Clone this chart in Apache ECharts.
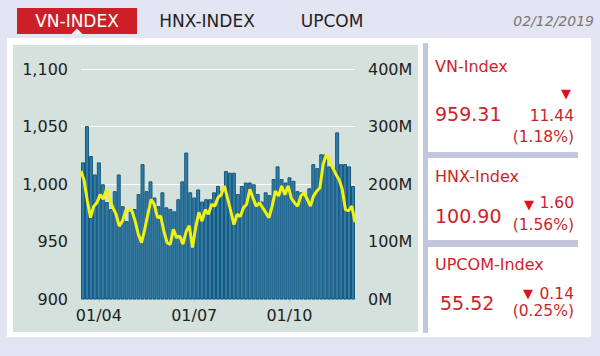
<!DOCTYPE html>
<html><head><meta charset="utf-8">
<script src="https://cdn.jsdelivr.net/npm/echarts/dist/echarts.min.js"></script>
<style>html,body{margin:0;padding:0;background:#e4e5f2;}#c{width:600px;height:356px;}</style>
</head><body><div id="c"></div>
<script>
// ---- data ----
const tabs = ['VN-INDEX', 'HNX-INDEX', 'UPCOM'];
const dateText = '02/12/2019';
const xTickLabels = ['01/04', '01/07', '01/10'];
const xTickIndex = [4, 28, 52];
// trading volume (millions of shares)
const volume = [238,301,249,217,238,200,169,157,188,217,162,136,153,157,183,235,188,205,177,162,186,160,157,
  153,174,205,255,186,177,191,170,174,174,186,197,188,223,220,220,183,197,203,203,200,
  183,170,186,181,
  209,231,209,203,212,206,188,186,181,193,235,228,252,252,231,228,290,235,235,231,197];
// VN-Index close
const vnIndex = [1011.6,1003,985.5,971,981,984,991,987,995.7,987,979.7,974,963.7,968,976.8,978,976.8,968,956.5,949.3,960.9,974,987,982.6,971,972.5,959.4,949.3,947.8,960.9,953.7,
  955,948,959,964,945,962.6,975.6,968,978,974,982.6,981,988.4,991,998.5,988,976.8,965,974,972,979.7,982.6,995.7,988,981,984,979.7,975.4,971,981,994,989.8,998.5,991,998.5,988,984,981,989.8,992.8,987,981,990,994,997,1017.4,1026,1020,1014.5,1008.7,1004,995.7,978,977,981,967];
const panelNames = ['VN-Index', 'HNX-Index', 'UPCOM-Index'];
const panelValues = ['959.31', '100.90', '55.52'];
const panelChanges = ['11.44', '1.60', '0.14'];
const panelPcts = ['(1.18%)', '(1.56%)', '(0.25%)'];

// ---- styling / layout ----
const FF = '"DejaVu Sans", Verdana, sans-serif';
const RED = '#cc1f2b';
function txt(x, y, text, size, fill, align, extra) {
  return Object.assign({
    type: 'text', x: x, y: y, z: 10,
    style: { text: text, fill: fill, font: size + 'px ' + FF,
      align: align, verticalAlign: 'middle', textAlign: align, textVerticalAlign: 'middle' }
  }, extra || {});
}
function rect(x, y, w, h, fill) {
  return { type: 'rect', z: -10, shape: { x: x, y: y, width: w, height: h }, style: { fill: fill } };
}
const graphics = [
  rect(7, 38, 584, 299, '#ffffff'),
  rect(13, 45, 405, 287, '#d5e1dd'),
  rect(423, 43, 5, 290, '#c3c6dc'),
  rect(423, 152, 155, 6, '#c3c6dc'),
  rect(423, 240, 155, 7, '#c3c6dc'),
  rect(17, 8, 120, 26, '#cd1f27'),
  { type: 'polygon', z: -9, shape: { points: [[71, 34.5], [77, 28.5], [83, 34.5]] }, style: { fill: '#eeeef7' } },
  txt(77, 21, tabs[0], 17, '#ffffff', 'center'),
  txt(207, 21, tabs[1], 17, '#222222', 'center'),
  txt(332, 21, tabs[2], 17, '#222222', 'center'),
  txt(594, 21, dateText, 14, '#777777', 'right', {}),
];
graphics[graphics.length - 1].style.font = 'italic 14px ' + FF;
const panelY = [
  { name: 66, tri: [566, 93], chg: 116, val: 114, pct: 137, valX: 435 },
  { name: 176, tri: [529, 204], chg: 203, val: 216, pct: 225, valX: 435 },
  { name: 264, tri: [528, 293], chg: 294, val: 303, pct: 311, valX: 440 }
];
panelY.forEach((p, i) => {
  graphics.push(txt(435, p.name, panelNames[i], 16, RED, 'left'));
  graphics.push(txt(p.tri[0], p.tri[1], '▼', 13, '#e0101e', 'center'));
  graphics.push(txt(574, p.chg, panelChanges[i], 15.5, RED, 'right'));
  graphics.push(txt(p.valX, p.val, panelValues[i], 19, RED, 'left'));
  graphics.push(txt(574, p.pct, panelPcts[i], 15.5, RED, 'right'));
});

const chart = echarts.init(document.getElementById('c'), null, { renderer: 'svg' });
const axisText = { color: '#222222', fontSize: 16, fontFamily: FF };
chart.setOption({
  animation: false,
  backgroundColor: 'transparent',
  graphic: graphics,
  grid: { left: 81, right: 245, top: 69, bottom: 56.5 },
  xAxis: [
    {
      type: 'category', data: volume.map((_, i) => i), boundaryGap: true,
      axisLine: { show: true, lineStyle: { color: '#a9cfe6' } },
      axisTick: { show: true, alignWithLabel: true, length: 3, interval: i => xTickIndex.includes(i), lineStyle: { color: '#a9cfe6' } },
      axisLabel: Object.assign({ margin: 8, interval: i => xTickIndex.includes(i),
        formatter: (v, i) => xTickLabels[xTickIndex.indexOf(Number(v))] || '' }, axisText),
      splitLine: { show: false }
    },
    {
      type: 'category', data: vnIndex.map((_, i) => i), boundaryGap: false, show: false
    }
  ],
  yAxis: [
    {
      type: 'value', min: 900, max: 1100, interval: 50, position: 'left',
      axisLine: { show: false }, axisTick: { show: false },
      splitLine: { lineStyle: { color: '#ffffff', width: 1 } },
      axisLabel: Object.assign({ margin: 13, padding: [5, 0, 0, 0], formatter: v => v.toLocaleString('en-US') }, axisText)
    },
    {
      type: 'value', min: 0, max: 400, interval: 100, position: 'right',
      axisLine: { show: false }, axisTick: { show: false }, splitLine: { show: false },
      axisLabel: Object.assign({ margin: 13, padding: [5, 0, 0, 0], formatter: '{value}M' }, axisText)
    }
  ],
  series: [
    {
      type: 'bar', xAxisIndex: 0, yAxisIndex: 1, data: volume, barCategoryGap: '0%',
      itemStyle: { color: '#2d7fab', borderColor: '#1a5479', borderWidth: 1 }
    },
    {
      type: 'line', xAxisIndex: 1, yAxisIndex: 0, data: vnIndex, symbol: 'none', z: 5,
      lineStyle: { color: '#f2f20c', width: 3 }
    }
  ]
});
</script>
</body></html>
